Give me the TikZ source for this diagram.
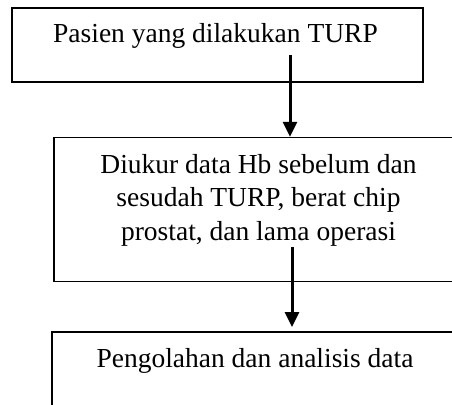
\documentclass[tikz,border=0pt]{standalone}
\usepackage{fontspec}
\setmainfont{Liberation Serif}
\usetikzlibrary{arrows.meta}
\begin{document}
\begin{tikzpicture}[x=1pt,y=-1pt,
  boxstyle/.style={draw=black,line width=1.4pt,inner sep=0pt,rectangle},
  txt/.style={inner sep=0pt,font=\fontsize{27.5}{33.5}\selectfont,align=center},
  flowarrow/.style={line width=3pt,-{Triangle[length=15pt,width=14pt]}}]
\useasboundingbox (0,0) rectangle (452,404);
\clip (0,0) rectangle (452,404);
% boxes
\node[boxstyle,minimum width=411pt,minimum height=74pt] (b1) at (217.5,45) {};
\node[boxstyle,minimum width=409pt,minimum height=144pt] (b2) at (258.5,209.5) {};
\node[boxstyle,minimum width=408pt,minimum height=140pt] (b3) at (256,402) {};
% texts
\node[txt,anchor=base] (t1) at (215.5,42) {Pasien yang dilakukan TURP};
\node[txt,anchor=base] (t2) at (258.5,240) {Diukur data Hb sebelum dan\\sesudah TURP, berat chip\\prostat, dan lama operasi};
\node[txt,anchor=base] (t3) at (255,367) {Pengolahan dan analisis data};
% arrows
\coordinate (s1) at (290,55);
\coordinate (s2) at (292,247);
\coordinate (e2) at (292,327);
\draw[flowarrow] (s1) -- (s1 |- b2.north);
\draw[flowarrow] (s2) -- (e2);
\end{tikzpicture}
\end{document}
